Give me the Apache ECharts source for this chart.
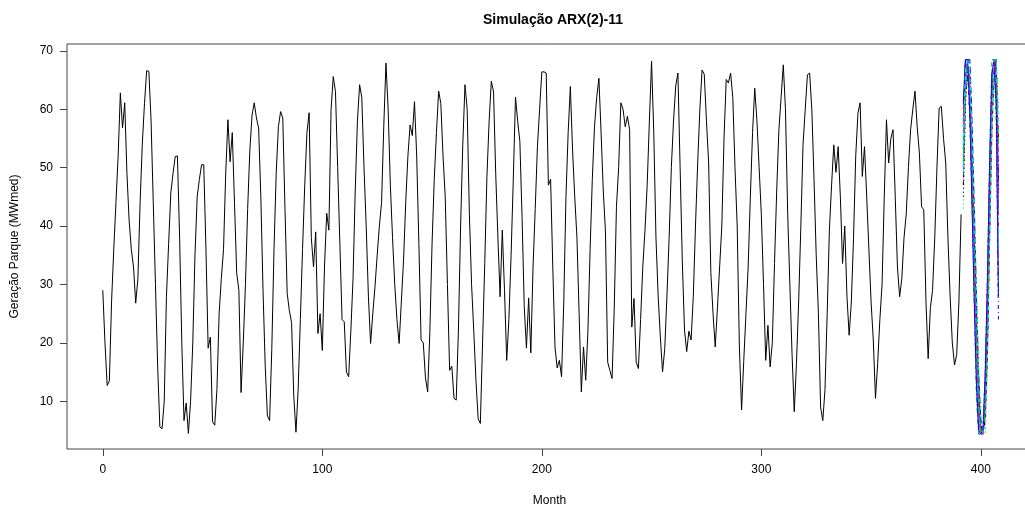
<!DOCTYPE html>
<html><head><meta charset="utf-8">
<script src="https://cdn.jsdelivr.net/npm/echarts@6/dist/echarts.min.js"></script>
<style>html,body{margin:0;padding:0;background:#fff}#chart{width:1025px;height:512px}</style>
</head><body><div id="chart"></div>
<script>
// Observed monthly generation, month 0..391
const observed = [
29,20,12.7,13.5,27,36,44,52,62.8,56.8,
61.1,49,41,36,33,26.8,31,44,54,61,
66.6,66.5,58,44,30,16,5.6,5.3,10,27.9,
37,45.7,49,51.9,52,38,20,6.7,9.7,4.5,
10,20,35,45,48,50.5,50.5,36,19.1,21,
6.5,5.9,12,25,31,36,49,58.2,51,56,
44,32,29,11.5,20,30,43,53,59,61.1,
58.5,56.8,45,29,16,7.5,6.7,19,36,49,
57,59.6,58.5,43,28.5,25.5,23.5,11,4.7,12,
24,36,47,56,59.4,38,33,39,21.6,25,
18.7,33,42.2,39.3,60,65.6,63,50,37,24,
23.6,15,14.2,22,31,46,58,64.2,62,50,
40,28,19.9,25,29.6,35,40,44,57,67.9,
60,47,38,30,24,19.9,27,34,44,52,
57.3,55.5,61.3,52,37,20.5,20,14,11.6,22,
37,48,56,63.1,61,52,45,30,15.3,16,
10.5,10.2,22,40,54,64.2,60,42,30,22,
13.6,7,6.2,20,33.6,48.5,58,64.8,63,49,
38,27.9,39.3,29,17,24,35,47.9,62.1,58,
54.5,41.5,26.2,19.1,27.7,18.3,33,43,53.6,60,
66.4,66.4,66.2,47,48,33,19.3,15.7,17,14.2,
27,45,56,63.9,53,45,38,25,11.6,19.3,
13.6,22,36,48,57,62,65.3,56,46,39,
16.7,15.3,13.9,26,43.3,50,61.1,60,57,58.8,
56.5,22.7,27.6,16.7,15.6,24,33,39.3,47,58,
68.2,56,38,28,21,15,19,28,38,50,
58,64,66.2,50,34,22.2,18.5,22,20.5,27.9,
40,50.8,60,66.7,66,58,50.8,32,25,19.3,
26,33,40,55,65.1,64.5,66.2,62,50,40,
19.3,8.5,17,25,33,45,56,63.6,58,50,
42,30,17,23,15.9,20,33.6,46,56.5,62,
67.6,60,42.2,30,18,8.2,16.5,27,40,54,
60,65.9,66.2,60,48,35,25,9,6.7,12,
25,39.3,47,53.9,49.2,53.6,45,33.6,40,28,
21.3,27,38,52,59.3,61.1,48.5,53.6,45,36,
27,20.5,10.5,16.5,24,30,45,58.2,50.8,55,
56.5,45,33,27.9,31,38,42,50,56.5,60,
63.1,57,52.5,43.3,42.8,27,17.3,26,29,38,
50,60.2,60.5,55,50.8,38,28,20,16.2,18,
27,42
];

// Simulated paths, months 392..408
const simStart = 392;
const simA = [58,68.5,68.5,64,52,38,22,10,4.4,4.4,9,24,45,62,68.5,66,42];
const simB = [52,66,68.5,60,46,30,16,6,4.4,6,14,30,50,66,68.5,62,32];
const simC = [43,60,68.5,66,55,40,26,12,5,4.4,8,20,40,58,68.5,68.5,52];
const simD = [60,68.5,66,58,44,28,12,4.4,4.4,4.4,12,28,48,64,68.5,64,24];
const simE = [55,68.5,68.5,62,50,34,18,8,4.4,5,10,26,46,62,66,60,38];
const simF = [50,64,68.5,63,48,32,20,9,5,4.4,11,22,42,60,68.5,68.5,45];
const simG = [47,62,66,60,50,36,24,12,6,4.4,7,18,38,56,66,68.5,55];
const simH = [57,68.5,68.5,65,54,42,28,14,6,4.4,4.4,16,36,54,64,68.5,60];
const simI = [62,68.5,68.5,60,45,26,10,4.4,4.4,6,16,32,52,68.5,68.5,58,30];
const simJ = [53,65,68.5,68.5,58,44,28,15,7,4.4,9,20,44,62,68.5,68.5,48];
const simK = [49,63,68.5,62,47,31,17,7,4.4,4.4,13,28,49,64,68.5,63,36];
const simL = [56,68.5,67,61,49,35,21,10,4.4,5,12,25,44,60,68.5,66,50];
const simM = [45,61,68.5,64,53,39,25,13,6,4.4,10,23,43,61,68.5,67,46];
const simN = [59,68.5,68.5,61,47,33,19,8,4.4,4.4,11,27,47,63,68.5,65,40];
const simO = [51,65,68.5,63,51,37,23,11,5,4.4,9,21,41,59,67,68.5,54];
const simP = [61,68.5,68.5,59,43,27,13,5,4.4,5,15,31,51,66,68.5,61,28];
const simQ = [54,67,68.5,66,56,43,29,16,8,4.4,6,17,37,57,68.5,68.5,58];
const simR = [48,63,68,61,49,33,19,9,4.4,4.4,12,26,46,62,68.5,64,34];
const sims = [simA,simB,simC,simD,simE,simF,simG,simH,simI,simJ,simK,simL,simM,simN,simO,simP,simQ,simR];

const simColors = ['#000000','#FF0000','#00CD00','#0000FF','#00FFFF','#FF00FF'];
const simDashes = ['solid',[4,4],[1,3],[1,3,4,3],[7,3]];

const xTicks = [0,100,200,300,400];
const yTicks = [10,20,30,40,50,60,70];

const font = 'Liberation Sans, Arial, sans-serif';

const series = [{
  type:'line', data: observed.map((v,i)=>[i,v]), showSymbol:false, symbol:'none',
  lineStyle:{color:'#000', width:1}, z:2
}];
sims.forEach((s,k)=>{
  series.push({
    type:'line', data: s.map((v,i)=>[simStart+i,v]), showSymbol:false, symbol:'none',
    lineStyle:{color:simColors[k%6], width:1, type:simDashes[k%5]}, z:3
  });
});

const chart = echarts.init(document.getElementById('chart'), null, {renderer:'canvas'});
chart.setOption({
  animation:false,
  backgroundColor:'#fff',
  title:{text:'Simulação ARX(2)-11', left:548, top:8, textAlign:'center',
    textStyle:{fontFamily:font, fontSize:14, fontWeight:'bold', color:'#000'}},
  grid:{left:67, top:44, width:965, height:405, show:true, borderColor:'#444', borderWidth:1,
    backgroundColor:'transparent', outerBoundsMode:'none', containLabel:false},
  xAxis:{type:'value', min:-16.3, max:423.3, name:'Month', nameLocation:'middle', nameGap:46,
    nameTextStyle:{fontFamily:font, fontSize:12, color:'#000'},
    axisLine:{show:false, onZero:false}, splitLine:{show:false},
    axisTick:{show:true, length:7, customValues:xTicks, lineStyle:{color:'#444'}},
    axisLabel:{customValues:xTicks, fontFamily:font, fontSize:12, color:'#000', margin:15}},
  yAxis:{type:'value', min:1.83, max:71.17, name:'Geração Parque (MWmed)', nameLocation:'middle', nameGap:46,
    nameRotate:90,
    nameTextStyle:{fontFamily:font, fontSize:12, color:'#000'},
    axisLine:{show:false, onZero:false}, splitLine:{show:false},
    axisTick:{show:true, length:7, customValues:yTicks, lineStyle:{color:'#444'}},
    axisLabel:{customValues:yTicks, fontFamily:font, fontSize:12, color:'#000', margin:14}},
  series: series
});
</script>
</body></html>
